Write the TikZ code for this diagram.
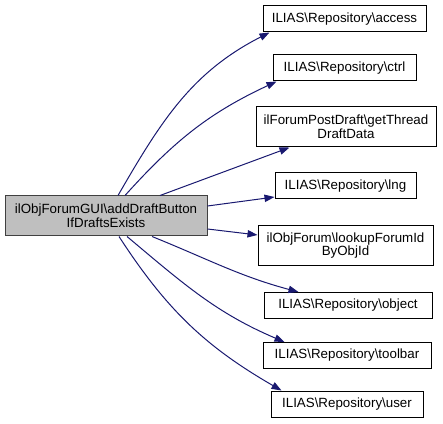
\documentclass[tikz,border=0pt]{standalone}
\usepackage{fontspec}
\setmainfont{Liberation Sans}
\usetikzlibrary{arrows.meta}
\definecolor{dxedge}{HTML}{191970}
\definecolor{dxfill}{HTML}{BFBFBF}
\definecolor{dxframe}{HTML}{404040}
\newcommand{\bsl}{\textbackslash}

\begin{document}
\begin{tikzpicture}[
  x=0.75pt,y=0.75pt,
  fn/.style={draw=black,fill=white,line width=0.75pt,minimum height=19.5pt,inner sep=0pt,align=center,font=\fontsize{10}{10.2}\selectfont},
  fntwo/.style={fn,minimum height=30pt},
  self/.style={fntwo,fill=dxfill,draw=dxframe},
  call/.style={-{Triangle[length=7.5pt,width=5.5pt]},draw=dxedge,line width=0.75pt}
]
\useasboundingbox (0,0) rectangle (443,-424);
% caller
\node[self,minimum width=151.5pt] (main) at (106,-216) {ilObjForumGUI\bsl addDraftButton\\IfDraftsExists};
% callees
\node[fn,minimum width=122.25pt] (access) at (344.5,-19) {ILIAS\bsl Repository\bsl access};
\node[fn,minimum width=107.25pt] (ctrl) at (344.5,-68) {ILIAS\bsl Repository\bsl ctrl};
\node[fntwo,minimum width=135pt] (draft) at (346,-127) {ilForumPostDraft\bsl getThread\\DraftData};
\node[fn,minimum width=105.75pt] (lng) at (345.5,-186) {ILIAS\bsl Repository\bsl lng};
\node[fntwo,minimum width=131.25pt] (lookup) at (345.5,-245.5) {ilObjForum\bsl lookupForumId\\ByObjId};
\node[fn,minimum width=126pt] (object) at (348,-305.5) {ILIAS\bsl Repository\bsl object};
\node[fn,minimum width=126pt] (toolbar) at (347,-355.5) {ILIAS\bsl Repository\bsl toolbar};
\node[fn,minimum width=114pt] (user) at (347,-404) {ILIAS\bsl Repository\bsl user};
% calls
\draw[call] ([xshift=9pt]main.north) to[out=60,in=207] ([xshift=5.25pt]access.south west);
\draw[call] ([xshift=14.25pt]main.north) to[out=48,in=205] ([xshift=3pt]ctrl.south west);
\draw[call] ([xshift=40.5pt]main.north) -- ([xshift=25.5pt]draft.south west);
\draw[call] ([yshift=7.5pt]main.east) -- ([yshift=-8.25pt]lng.west);
\draw[call] ([yshift=-9.75pt]main.east) -- ([yshift=7.9pt]lookup.west);
\draw[call] ([xshift=34.5pt]main.south) to[out=-22,in=165] ([xshift=26.25pt]object.north west);
\draw[call] ([xshift=15.75pt]main.south) to[out=-40,in=157] ([xshift=16.5pt]toolbar.north west);
\draw[call] ([xshift=9.75pt]main.south) to[out=-57,in=150] ([xshift=8.25pt]user.north west);
\end{tikzpicture}
\end{document}
